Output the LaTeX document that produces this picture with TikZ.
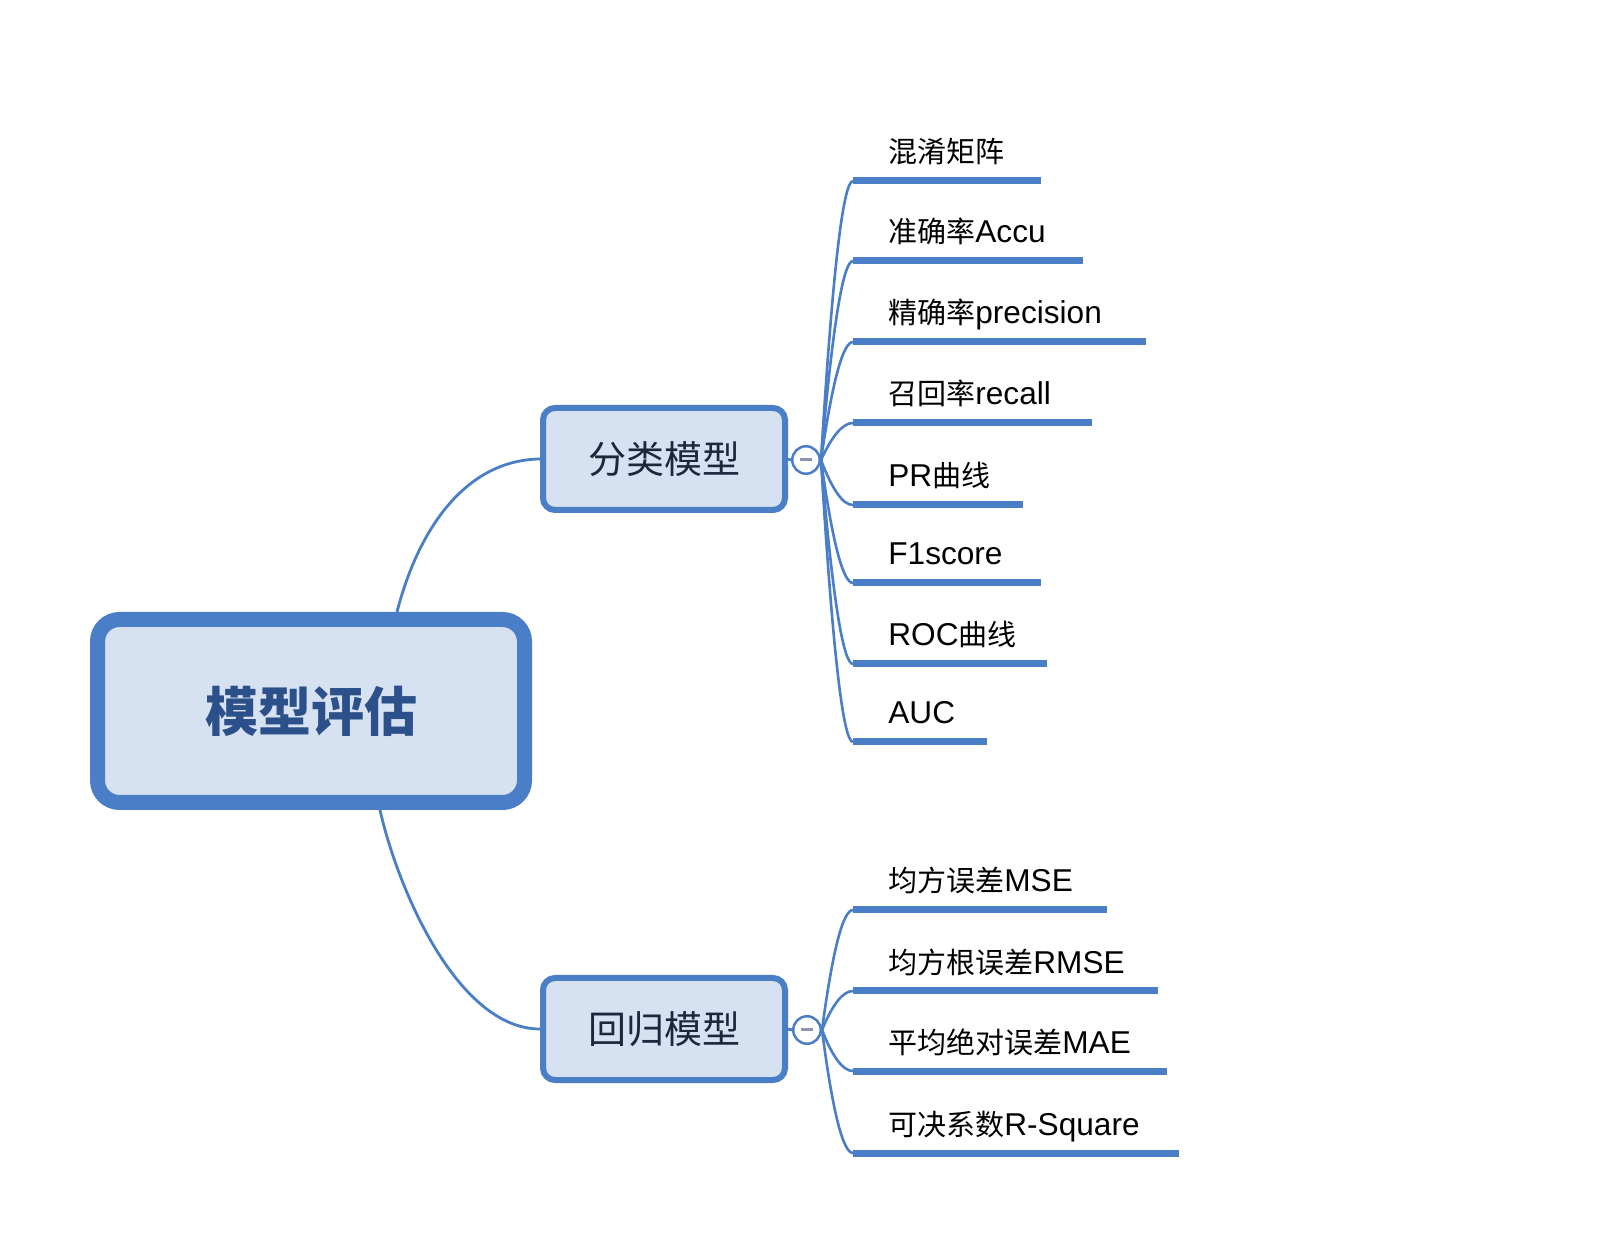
\documentclass[tikz,border=0pt]{standalone}
\usepackage{fontspec}
\setmainfont{Noto Sans CJK SC}
\newfontfamily\latfont{Liberation Sans}
\newcommand\latn[1]{{\latfont\fontsize{15.8}{18}\selectfont #1}}
\usetikzlibrary{calc}
\definecolor{mblue}{RGB}{74,126,199}
\definecolor{mfill}{RGB}{214,226,241}
\definecolor{roottext}{RGB}{44,80,138}
\definecolor{branchtext}{RGB}{28,38,60}
\definecolor{minusgray}{RGB}{140,150,175}
\begin{document}
\begin{tikzpicture}[x=0.5pt,y=-0.5pt,
  rootbox/.style={draw=mblue,line width=7.5pt,fill=mfill,rounded corners=11pt,minimum width=213.5pt,minimum height=91.5pt,inner sep=0pt,font=\fontsize{26.5}{30}\selectfont\bfseries,text=roottext},
  branchbox/.style={draw=mblue,line width=3pt,fill=mfill,rounded corners=6pt,minimum width=121pt,minimum height=51pt,inner sep=0pt,font=\fontsize{19}{22}\selectfont,text=branchtext},
  toggle/.style={circle,draw=mblue,line width=1.25pt,fill=white,minimum size=13.75pt,inner sep=0pt},
  minusbar/.style={draw=minusgray,line width=1.5pt},
  link/.style={draw=mblue,line width=1.4pt},
  leaflink/.style={draw=mblue,line width=1.3pt},
  underbar/.style={draw=mblue,line width=3.5pt},
  leaftext/.style={anchor=base west,inner sep=0pt,font=\fontsize{14.5}{17}\selectfont,text=black}]
\useasboundingbox (0,0) rectangle (1602,1234);
\fill[white] (0,0) rectangle (1602,1234);

% main nodes
\node[rootbox] (root) at (311,711) {模型评估};
\node[branchbox] (cls) at (664,459) {\raisebox{-1.5pt}{分类模型}};
\node[branchbox] (reg) at (664,1029) {\raisebox{-1.5pt}{回归模型}};
\node[toggle] (c1) at (806,460) {};
\node[toggle] (c2) at (807,1030) {};
\draw[minusbar] ($(c1.center)+(-6,0)$) -- ($(c1.center)+(6,0)$);
\draw[minusbar] ($(c2.center)+(-6,0)$) -- ($(c2.center)+(6,0)$);

% root to branches
\coordinate (rtop) at ($(root.north)+(86,0)$);
\coordinate (rbot) at ($(root.south)+(69,0)$);
\draw[link] (rtop) .. controls (418,530) and (465,460) .. (cls.west);
\draw[link] (rbot) .. controls (398,890) and (458,1029) .. (reg.west);
\draw[link] (cls.east) -- (c1.west);
\draw[link] (reg.east) -- (c2.west);

% classification leaves
\foreach \y/\e/\t [count=\i] in {181/1041/混淆矩阵, 261/1083/准确率\latn{Accu}, 342/1146/精确率\latn{precision}, 423/1092/召回率\latn{recall}, 505/1023/\latn{PR}曲线, 583/1041/\latn{F1score}, 664/1047/\latn{ROC}曲线, 742/987/\latn{AUC}}{
  \coordinate (a\i s) at (853,\y);
  \coordinate (a\i e) at (\e,\y);
  \draw[underbar] (a\i s) -- (a\i e);
  \node[leaftext] (a\i t) at (888,\y-18) {\t};
  \draw[leaflink] (c1.east) .. controls ($(c1.east)!2/3!(a\i s)+(-10,0)$) and ($(a\i s)+(-10,0)$) .. (a\i s);
}

% regression leaves
\foreach \y/\e/\t [count=\i] in {910/1107/均方误差\latn{MSE}, 991/1158/均方根误差\latn{RMSE}, 1071/1167/平均绝对误差\latn{MAE}, 1153/1179/可决系数\latn{R-Square}}{
  \coordinate (b\i s) at (853,\y);
  \coordinate (b\i e) at (\e,\y);
  \draw[underbar] (b\i s) -- (b\i e);
  \node[leaftext] (b\i t) at (888,\y-18) {\t};
  \draw[leaflink] (c2.east) .. controls ($(c2.east)!2/3!(b\i s)+(-10,0)$) and ($(b\i s)+(-10,0)$) .. (b\i s);
}
\end{tikzpicture}
\end{document}
